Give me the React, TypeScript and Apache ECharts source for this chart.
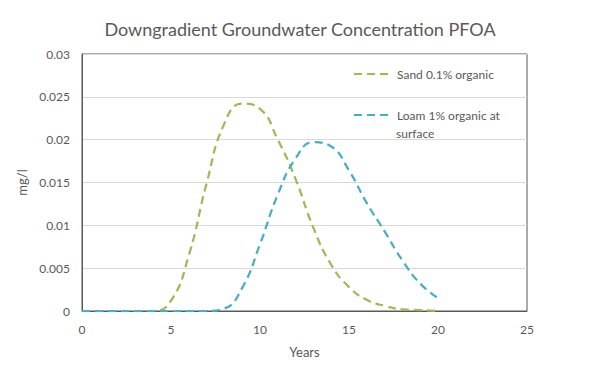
import React, { useEffect, useRef } from "react";
import * as echarts from "echarts";

const years = [0, 1, 2, 3, 4, 5, 6, 7, 8, 9, 10, 11, 12, 13, 14, 15, 16, 17, 18, 19, 20];
const sand = [0, 0, 0, 0, 0, 0.0012, 0.0065, 0.0149, 0.0219, 0.0242, 0.0236, 0.02, 0.0154, 0.0097, 0.0054, 0.0028, 0.0013, 0.0006, 0.0002, 0.0001, 0];
const loam = [0, 0, 0, 0, 0, 0, 0, 0, 0.0003, 0.0027, 0.0078, 0.0136, 0.0178, 0.0197, 0.0192, 0.0164, 0.0126, 0.0093, 0.0059, 0.0032, 0.0015];
const seriesNames = ["Sand 0.1% organic", "Loam 1% organic at"];
const yTicks = { min: 0, max: 0.03, interval: 0.005 };
const xTicks = { min: 0, max: 25, interval: 5 };

const FONT = "Lato, 'Open Sans', sans-serif";
const GREY = "#595959";

export default function App() {
  const ref = useRef<HTMLDivElement>(null);
  useEffect(() => {
    if (!ref.current) return;
    const chart = echarts.init(ref.current, undefined, { renderer: "svg" });
    const legendBase = {
      left: 348,
      itemWidth: 38,
      itemHeight: 14,
      itemStyle: { opacity: 0 },
      textStyle: { fontFamily: FONT, fontSize: 12, color: GREY },
    };
    chart.setOption({
      animation: false,
      backgroundColor: "#ffffff",
      title: {
        text: "Downgradient Groundwater Concentration PFOA",
        left: "center",
        top: 15,
        textStyle: { fontFamily: FONT, fontSize: 18, fontWeight: "normal", color: GREY },
      },
      grid: {
        left: 82,
        right: 73,
        top: 54,
        bottom: 65,
        show: true,
        borderColor: GREY,
        borderWidth: 1,
      },
      legend: [
        { ...legendBase, data: [seriesNames[0]], top: 63 },
        { ...legendBase, data: [seriesNames[1]], top: 104 },
      ],
      graphic: [
        {
          type: "text",
          left: 396,
          top: 127,
          style: { text: "surface", fontFamily: FONT, fontSize: 12, fill: GREY },
        },
      ],
      xAxis: {
        type: "value",
        min: xTicks.min,
        max: xTicks.max,
        interval: xTicks.interval,
        name: "Years",
        nameLocation: "middle",
        nameGap: 34,
        nameTextStyle: { fontFamily: FONT, fontSize: 13, color: GREY },
        axisLine: { lineStyle: { color: GREY } },
        axisTick: { show: false },
        splitLine: { show: false },
        axisLabel: { fontFamily: FONT, fontSize: 12, color: GREY, margin: 12 },
      },
      yAxis: {
        type: "value",
        min: yTicks.min,
        max: yTicks.max,
        interval: yTicks.interval,
        name: "mg/l",
        nameLocation: "middle",
        nameGap: 44,
        nameTextStyle: { fontFamily: FONT, fontSize: 13, color: GREY },
        axisLine: { show: true, lineStyle: { color: GREY } },
        axisTick: { show: false },
        splitLine: { lineStyle: { color: "#d9d9d9" } },
        axisLabel: {
          fontFamily: FONT,
          fontSize: 12,
          color: GREY,
          margin: 12,
          formatter: (v: number) => String(parseFloat(v.toFixed(3))),
        },
      },
      series: [
        {
          name: seriesNames[0],
          type: "line",
          smooth: true,
          symbol: "none",
          data: years.map((x, i) => [x, sand[i]]),
          lineStyle: { color: "#9bbb59", width: 2.25, type: [8, 5] },
          itemStyle: { color: "#9bbb59" },
        },
        {
          name: seriesNames[1],
          type: "line",
          smooth: true,
          symbol: "none",
          data: years.map((x, i) => [x, loam[i]]),
          lineStyle: { color: "#4bacc6", width: 2.25, type: [8, 5] },
          itemStyle: { color: "#4bacc6" },
        },
      ],
    });
    return () => chart.dispose();
  }, []);
  return (
    <div
      style={{
        position: "fixed",
        left: 0,
        top: 0,
        width: 600,
        height: 376,
        boxSizing: "border-box",
        border: "1px solid #d9d9d9",
        background: "#fff",
      }}
    >
      <div ref={ref} style={{ position: "absolute", left: -1, top: -1, width: 600, height: 376 }} />
    </div>
  );
}
